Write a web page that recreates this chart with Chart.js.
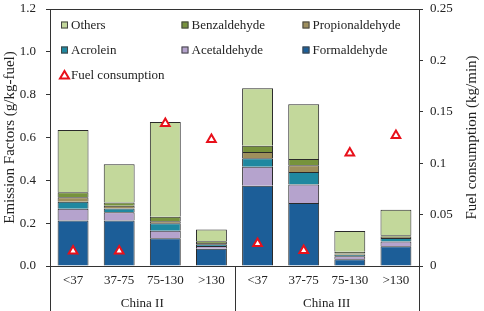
<!DOCTYPE html>
<html><head><meta charset="utf-8">
<script src="https://cdn.jsdelivr.net/npm/chart.js@4/dist/chart.umd.min.js"></script>
<style>html,body{margin:0;padding:0;background:#fff}#wrap{width:484px;height:311px;position:relative}</style>
</head><body><div id="wrap"><canvas id="c"></canvas></div>
<script>
const categories = ['<37','37-75','75-130','>130','<37','37-75','75-130','>130'];
const groups = ['China II','China III'];
const formaldehyde    = [0.212,0.213,0.129,0.080,0.375,0.294,0.031,0.092];
const acetaldehyde    = [0.055,0.038,0.036,0.013,0.088,0.086,0.014,0.022];
const acrolein        = [0.033,0.018,0.035,0.008,0.040,0.059,0.008,0.017];
const propionaldehyde = [0.021,0.012,0.009,0.006,0.029,0.032,0.005,0.005];
const benzaldehyde    = [0.023,0.016,0.021,0.008,0.029,0.029,0.008,0.007];
const others          = [0.291,0.178,0.442,0.055,0.269,0.255,0.098,0.120];
const fuelConsumption = [0.0146,0.0146,0.1386,0.123,0.022,0.015,0.110,0.127];
const leftTickLabels  = ['0.0','0.2','0.4','0.6','0.8','1.0','1.2'];
const rightTickLabels = ['0','0.05','0.1','0.15','0.2','0.25'];
const leftTitle = 'Emission Factors (g/kg-fuel)';
const rightTitle = 'Fuel consumption (kg/min)';

const SERIF = '"Liberation Serif","Times New Roman",serif';
const TXT = '#222';
const LINE = '#333';

function bar(label, data, color) {
  return {type:'bar', label, data, backgroundColor:color, borderColor:'#2a2a2a', borderWidth:1,
          barPercentage:0.67, categoryPercentage:1, yAxisID:'y', stack:'s'};
}
const datasets = [
  bar('Formaldehyde', formaldehyde, '#1C5E98'),
  bar('Acetaldehyde', acetaldehyde, '#B5A3CD'),
  bar('Acrolein', acrolein, '#1F88A0'),
  bar('Propionaldehyde', propionaldehyde, '#9E8F5C'),
  bar('Benzaldehyde', benzaldehyde, '#77933C'),
  bar('Others', others, '#C3D89B'),
  {type:'line', label:'Fuel consumption', data:fuelConsumption, yAxisID:'y1', showLine:false,
   pointStyle:'triangle', pointRadius:5, pointHoverRadius:5, borderColor:'#E8101A', backgroundColor:'#fff',
   pointBorderWidth:2, borderWidth:2, order:-1}
];

const legendOrder = ['Others','Benzaldehyde','Propionaldehyde','Acrolein','Acetaldehyde','Formaldehyde','Fuel consumption'];

const framePlugin = {
  id:'frame',
  afterDraw(chart) {
    const ctx = chart.ctx, a = chart.chartArea, xs = chart.scales.x;
    ctx.save();
    ctx.strokeStyle = LINE; ctx.lineWidth = 1;
    ctx.beginPath(); ctx.moveTo(a.left, Math.round(a.top)+0.5); ctx.lineTo(a.right, Math.round(a.top)+0.5); ctx.stroke();
    const n = chart.data.labels.length;
    const step = (xs.getPixelForValue(1) - xs.getPixelForValue(0));
    const sepXs = [xs.getPixelForValue(0) - step/2, xs.getPixelForValue(n/2 - 1) + step/2, xs.getPixelForValue(n-1) + step/2];
    sepXs.forEach(x => {
      const px = Math.round(x)+0.5;
      ctx.beginPath(); ctx.moveTo(px, a.bottom); ctx.lineTo(px, chart.height); ctx.stroke();
    });
    ctx.fillStyle = TXT;
    ctx.font = '15px ' + SERIF;
    ctx.textAlign = 'center'; ctx.textBaseline = 'middle';
    ctx.translate(472, (a.top + a.bottom)/2);
    ctx.rotate(-Math.PI/2);
    ctx.fillText(rightTitle, 0, 0);
    ctx.restore();
    ctx.save();
    const colX = [61, 181.5, 302.5], rowY = [25, 50, 75];
    ctx.font = '13px ' + SERIF;
    ctx.textAlign = 'left'; ctx.textBaseline = 'middle';
    legendOrder.forEach((name, i) => {
      const ds = chart.data.datasets.find(d => d.label === name);
      const x = colX[i % 3], y = rowY[Math.floor(i / 3)];
      if (ds.type === 'bar') {
        ctx.fillStyle = ds.backgroundColor;
        ctx.fillRect(x, y - 3.5, 7, 7);
        ctx.strokeStyle = '#444'; ctx.lineWidth = 1;
        ctx.strokeRect(x + 0.5, y - 3, 6, 6);
      } else {
        ctx.beginPath();
        ctx.moveTo(x + 3.5, y - 4); ctx.lineTo(x + 8, y + 3.5); ctx.lineTo(x - 1, y + 3.5); ctx.closePath();
        ctx.fillStyle = '#fff'; ctx.fill();
        ctx.strokeStyle = ds.borderColor; ctx.lineWidth = 2; ctx.stroke();
      }
      ctx.fillStyle = TXT;
      ctx.fillText(name, x + 10, y + 1);
    });
    ctx.restore();
  }
};

new Chart(document.getElementById('c'), {
  data: {labels: categories, datasets},
  plugins: [framePlugin],
  options: {
    responsive:true, maintainAspectRatio:false, animation:false,
    layout:{padding:{top:9, left:0, right:0, bottom:0}},
    plugins:{legend:{display:false}, tooltip:{enabled:false}},
    scales:{
      x:{type:'category', stacked:true, position:'bottom', weight:0, offset:true,
         grid:{display:false, drawTicks:false}, border:{display:true, color:LINE, width:1},
         ticks:{color:TXT, font:{family:SERIF, size:13}, padding:7, maxRotation:0, autoSkip:false},
         afterFit(s){ s.height = 25; s.paddingLeft = 0; s.paddingRight = 0; }},
      x2:{type:'category', labels:groups, position:'bottom', weight:1, offset:true,
          grid:{display:false, drawTicks:false}, border:{display:false},
          ticks:{color:TXT, font:{family:SERIF, size:13}, padding:5, maxRotation:0},
          afterFit(s){ s.height = 20; s.paddingLeft = 0; s.paddingRight = 0; }},
      y:{type:'linear', stacked:true, position:'left', min:0, max:1.2,
         grid:{drawOnChartArea:false, drawTicks:true, tickLength:4, color:LINE},
         border:{display:true, color:LINE, width:1},
         ticks:{stepSize:0.2, color:TXT, font:{family:SERIF, size:13}, padding:10,
                callback:(v,i)=>leftTickLabels[i]},
         title:{display:true, text:leftTitle, color:TXT, font:{family:SERIF, size:15}, padding:{top:1,bottom:0}},
         afterFit(s){ s.width = 50; s.paddingTop = 0; s.paddingBottom = 0; }},
      y1:{type:'linear', position:'right', min:0, max:0.25,
          grid:{drawOnChartArea:false, drawTicks:true, tickLength:4, color:LINE},
          border:{display:true, color:LINE, width:1},
          ticks:{stepSize:0.05, color:TXT, font:{family:SERIF, size:13}, padding:7,
                 callback:(v,i)=>rightTickLabels[i]},
          afterFit(s){ s.width = 65; s.paddingTop = 0; s.paddingBottom = 0; }}
    }
  }
});
</script></body></html>
